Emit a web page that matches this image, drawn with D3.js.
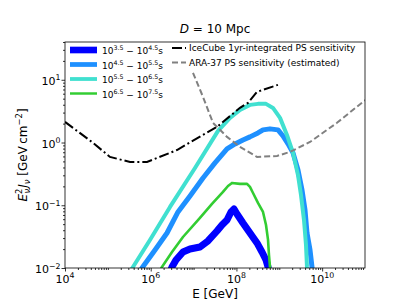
<!DOCTYPE html>
<html>
<head>
<meta charset="utf-8">
<script src="https://cdn.jsdelivr.net/npm/d3@7"></script>
<style>
  body { margin: 0; background: #fff; }
  svg { font-family: "DejaVu Sans", sans-serif; }
</style>
</head>
<body>
<div id="chart"></div>
<script>
// Data: [E (GeV), E^2 J (GeV cm^-2)]
const band35 = [[2.67e6, 7.7e-3], [3.14e6, 0.0104], [3.89e6, 0.0134], [5.66e6, 0.018], [8.26e6, 0.0201],
    [1.41e7, 0.0216], [2.17e7, 0.027], [3.52e7, 0.0389], [4.6e7, 0.0485], [6.03e7, 0.0583], [7.46e7, 0.0782],
    [8.77e7, 0.0873], [1.03e8, 0.0726], [1.42e8, 0.0522], [2.07e8, 0.0361], [3.02e8, 0.0251], [3.95e8, 0.018],
    [4.9e8, 0.0134], [5.46e8, 0.0104], [5.75e8, 7.7e-3]];
const band45 = [[5.05e5, 7.7e-3], [6.26e5, 0.010], [1.26e6, 0.0194], [2.40e6, 0.0361], [4.33e6, 0.0782],
    [8.26e6, 0.141], [1.66e7, 0.272], [3.16e7, 0.473], [6.03e7, 0.791], [9.27e7, 0.95], [1.42e8, 1.10],
    [2.07e8, 1.23], [3.18e8, 1.42], [4.17e8, 1.59], [6.07e8, 1.65], [9.33e8, 1.59], [1.22e9, 1.27],
    [1.60e9, 0.95], [2.09e9, 0.683], [2.73e9, 0.366], [3.39e9, 0.175], [3.98e9, 0.0841], [4.43e9, 0.0361],
    [5.21e9, 0.0194], [5.80e9, 0.0104], [6.12e9, 7.7e-3]];
const band55 = [[2.95e5, 7.7e-3], [3.86e5, 0.0104], [9.6e5, 0.028], [2.82e6, 0.094], [1.08e7, 0.393],
    [3.72e7, 1.53], [7.08e7, 2.47], [1.21e8, 3.31], [2.07e8, 3.98], [3.18e8, 4.13], [4.90e8, 4.13],
    [7.13e8, 3.56], [1.04e9, 2.47], [1.51e9, 1.32], [2.09e9, 0.683], [2.73e9, 0.304], [3.21e9, 0.146],
    [3.77e9, 0.0583], [4.20e9, 0.0233], [4.43e9, 0.0104], [4.68e9, 7.7e-3]];
const band65 = [[1.48e6, 7.7e-3], [1.83e6, 0.0104], [3.14e6, 0.018], [5.66e6, 0.0312], [1.41e7, 0.0627],
    [2.69e7, 0.105], [4.86e7, 0.163], [6.36e7, 0.203], [7.89e7, 0.227], [1.21e8, 0.219], [1.77e8, 0.219],
    [2.07e8, 0.196], [2.44e8, 0.157], [3.18e8, 0.109], [4.17e8, 0.0782], [4.90e8, 0.0485], [5.46e8, 0.028],
    [5.75e8, 0.0161], [6.07e8, 0.0104], [6.07e8, 7.7e-3]];
const icecube = [[1e4, 2.13], [4.5e4, 0.99], [1.12e5, 0.589], [3.29e5, 0.49], [8.2e5, 0.49], [4.1e6, 0.76],
    [3.5e7, 1.77], [1.21e8, 3.57], [1.86e8, 4.28], [3.0e8, 6.4], [9.3e8, 8.3]];
const ara37 = [[9.7e6, 12.9], [1.66e7, 5.33], [2.84e7, 2.06], [6.03e7, 1.23], [1.21e8, 0.851], [3.02e8, 0.589],
    [8.85e8, 0.611], [1.78e9, 0.708], [5.21e9, 1.02], [2.22e10, 2.06], [8.98e10, 4.45], [1.05e11, 4.78]];

const xTicks = [1e4, 1e6, 1e8, 1e10];
const xTickExp = ['4', '6', '8', '10'];
const yTicks = [1e-2, 1e-1, 1e0, 1e1];
const yTickExp = ['\u22122', '\u22121', '0', '1'];

const bands = [
    { data: band35, color: '#0000ff', width: 7, lo: '3.5', hi: '4.5' },
    { data: band45, color: '#1e90ff', width: 5, lo: '4.5', hi: '5.5' },
    { data: band55, color: '#40e0d0', width: 4, lo: '5.5', hi: '6.5' },
    { data: band65, color: '#32cd32', width: 2.6, lo: '6.5', hi: '7.5' }
];

const W = 407, H = 305;
const margin = { left: 65, right: 42, top: 42, bottom: 37 };
const width = W - margin.left - margin.right;
const height = H - margin.top - margin.bottom;

const svg = d3.select('#chart').append('svg')
    .attr('width', W).attr('height', H);

const g = svg.append('g').attr('transform', `translate(${margin.left},${margin.top})`);

const x = d3.scaleLog().domain([1e4, 1e11]).range([0, width]);
const y = d3.scaleLog().domain([1e-2, 40]).range([height, 0]);

g.append('defs').append('clipPath').attr('id', 'clip')
    .append('rect').attr('width', width).attr('height', height);

const line = d3.line().x(d => x(d[0])).y(d => y(d[1]));
const plot = g.append('g').attr('clip-path', 'url(#clip)');

bands.forEach(b => {
    plot.append('path').datum(b.data)
        .attr('fill', 'none').attr('stroke', b.color).attr('stroke-width', b.width)
        .attr('stroke-linejoin', 'round').attr('d', line);
});

plot.append('path').datum(icecube)
    .attr('fill', 'none').attr('stroke', '#000').attr('stroke-width', 2)
    .attr('stroke-dasharray', '10,3,2,3').attr('d', line);

plot.append('path').datum(ara37)
    .attr('fill', 'none').attr('stroke', '#808080').attr('stroke-width', 2)
    .attr('stroke-dasharray', '6,3').attr('d', line);

// minor ticks
const decades = d3.range(4, 11);
const xMinor = [];
decades.forEach(k => d3.range(1, 10).forEach(m => {
    const v = m * Math.pow(10, k);
    if (!xTicks.includes(v) && v <= 1e11) xMinor.push(v);
}));
const yMinor = [];
[-2, -1, 0, 1].forEach(k => d3.range(2, 10).forEach(m => {
    const v = m * Math.pow(10, k);
    if (v <= 40) yMinor.push(v);
}));

function styleAxis(sel) {
    sel.select('.domain').remove();
    sel.selectAll('line').attr('stroke', '#000').attr('stroke-width', 0.8);
}

g.append('g').attr('transform', `translate(0,${height})`)
    .call(d3.axisBottom(x).tickValues(xMinor).tickSize(2).tickFormat('')).call(styleAxis);
g.append('g').attr('transform', `translate(0,${height})`)
    .call(d3.axisBottom(x).tickValues(xTicks).tickSize(3.5).tickFormat('')).call(styleAxis);
g.append('g')
    .call(d3.axisLeft(y).tickValues(yMinor).tickSize(2).tickFormat('')).call(styleAxis);
g.append('g')
    .call(d3.axisLeft(y).tickValues(yTicks).tickSize(3.5).tickFormat('')).call(styleAxis);

g.append('rect').attr('width', width).attr('height', height)
    .attr('fill', 'none').attr('stroke', '#000').attr('stroke-width', 0.8);

// tick labels with superscripts
xTicks.forEach((v, i) => {
    const t = g.append('text').attr('x', x(v)).attr('y', height + 14.5)
        .attr('text-anchor', 'middle').attr('font-size', 11);
    t.append('tspan').text('10');
    t.append('tspan').attr('dy', -4.5).attr('font-size', 7.8).text(xTickExp[i]);
});
yTicks.forEach((v, i) => {
    const t = g.append('text').attr('x', -4.5).attr('y', y(v) + 5)
        .attr('text-anchor', 'end').attr('font-size', 11);
    t.append('tspan').text('10');
    t.append('tspan').attr('dy', -4.5).attr('font-size', 7.8).text(yTickExp[i]);
});

// axis labels and title
g.append('text').attr('x', width / 2).attr('y', height + 30)
    .attr('text-anchor', 'middle').attr('font-size', 12).text('E [GeV]');

const yl = svg.append('text').attr('transform', `translate(27,${margin.top + height / 2}) rotate(-90)`)
    .attr('text-anchor', 'middle').attr('font-size', 12);
yl.append('tspan').attr('font-style', 'italic').text('E');
yl.append('tspan').attr('font-size', 8.4).attr('dy', -5).text('2');
yl.append('tspan').attr('font-size', 8.4).attr('dx', -4.8).attr('dy', 8).attr('font-style', 'italic').text('\u03bd');
yl.append('tspan').attr('dy', -3).attr('dx', 1).attr('font-style', 'italic').text('J');
yl.append('tspan').attr('font-size', 8.4).attr('dy', 3).attr('font-style', 'italic').text('\u03bd');
yl.append('tspan').attr('dy', -3).text(' [GeV\u2009cm');
yl.append('tspan').attr('font-size', 8.4).attr('dy', -5).text('\u22122');
yl.append('tspan').attr('dy', 5).text(']');

const title = svg.append('text').attr('x', margin.left + width / 2).attr('y', 33)
    .attr('text-anchor', 'middle').attr('font-size', 12);
title.append('tspan').attr('font-style', 'italic').text('D');
title.append('tspan').text(' = 10 Mpc');

// legend, left column
bands.forEach((b, i) => {
    const yy = 50 + i * 14.5;
    svg.append('line').attr('x1', 70).attr('x2', 97).attr('y1', yy).attr('y2', yy)
        .attr('stroke', b.color).attr('stroke-width', b.width * 0.95);
    const t = svg.append('text').attr('x', 102).attr('y', yy + 4).attr('font-size', 9);
    t.append('tspan').text('10');
    t.append('tspan').attr('dy', -3.8).attr('font-size', 6.3).text(b.lo);
    t.append('tspan').attr('dy', 3.8).text(' \u2212 10');
    t.append('tspan').attr('dy', -3.8).attr('font-size', 6.3).text(b.hi);
    t.append('tspan').attr('dy', 3.8).text('s');
});

// legend, right column
const refs = [
    { label: 'IceCube 1yr-integrated PS sensitivity', color: '#000', dash: '10,3,2,3' },
    { label: 'ARA-37 PS sensitivity (estimated)', color: '#808080', dash: '6,3' }
];
refs.forEach((r, i) => {
    const yy = 48 + i * 14.5;
    svg.append('line').attr('x1', 172).attr('x2', 186).attr('y1', yy).attr('y2', yy)
        .attr('stroke', r.color).attr('stroke-width', 2).attr('stroke-dasharray', r.dash);
    svg.append('text').attr('x', 189).attr('y', yy + 3.3).attr('font-size', 9).text(r.label);
});
</script>
</body>
</html>
